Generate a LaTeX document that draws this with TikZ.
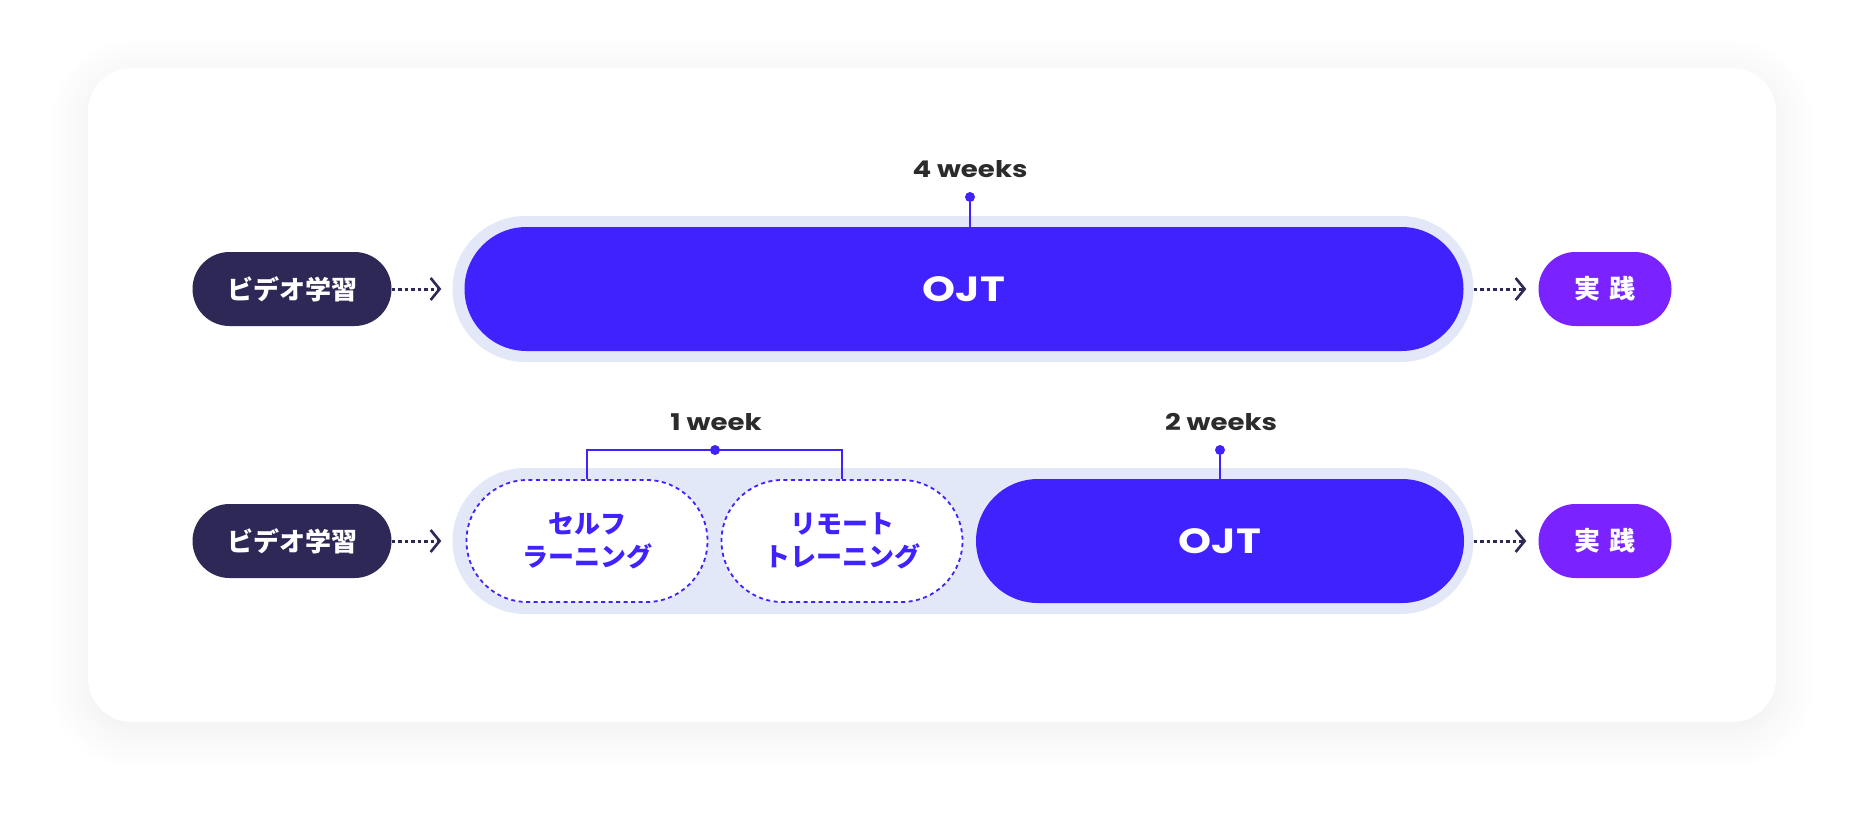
\documentclass[tikz,border=0pt]{standalone}
\usepackage{fontspec}
\newfontfamily\jpfont{Noto Sans CJK JP}
\newfontfamily\latinfont{Poppins}[FakeStretch=1.2]
\usetikzlibrary{shapes.misc, arrows.meta, positioning, shadows.blur}
\usepackage{xcolor}
\definecolor{PlanNavy}{HTML}{2E2856}
\definecolor{PlanBlue}{HTML}{4022FF}
\definecolor{PlanPurple}{HTML}{7A22FF}
\definecolor{PlanTrack}{HTML}{E3E8F8}
\definecolor{PlanText}{HTML}{2B2B2B}
\tikzset{
    % Pill styles - all fully rounded ends
    videopill/.style={
        rounded rectangle,
        fill=PlanNavy,
        minimum width=199pt,
        minimum height=74pt,
        inner sep=0pt,
        text=white,
        font=\jpfont\bfseries\fontsize{26pt}{30pt}\selectfont
    },
    practicepill/.style={
        rounded rectangle,
        fill=PlanPurple,
        minimum width=133pt,
        minimum height=74pt,
        inner sep=0pt,
        text=white,
        font=\jpfont\bfseries\fontsize{26pt}{30pt}\selectfont
    },
    trackpill/.style={
        rounded rectangle,
        fill=PlanTrack,
        minimum width=1021pt,
        minimum height=146pt,
        inner sep=0pt
    },
    ojtpill/.style={
        rounded rectangle,
        fill=PlanBlue,
        minimum height=124pt,
        inner sep=0pt,
        text=white,
        font=\latinfont\bfseries\fontsize{35pt}{40pt}\selectfont
    },
    selfpill/.style={
        rounded rectangle,
        draw=PlanBlue,
        fill=white,
        line width=1.8pt,
        dash pattern=on 4pt off 3.5pt,
        minimum width=241pt,
        minimum height=122pt,
        inner sep=0pt,
        align=center,
        text=PlanBlue,
        font=\jpfont\bfseries\fontsize{26pt}{33pt}\selectfont
    },
    weeklabel/.style={
        text=PlanText,
        inner sep=0pt,
        font=\latinfont\bfseries\fontsize{23pt}{26pt}\selectfont
    },
    marker/.style={
        circle,
        fill=PlanBlue,
        minimum size=10pt,
        inner sep=0pt
    },
    % Connector styles - straight lines only
    dotarrow/.style={
        -{Straight Barb[length=9pt, width=22pt, line width=2.6pt]},
        line width=3pt,
        draw=PlanNavy,
        dash pattern=on 3.5pt off 3pt
    },
    stem/.style={
        line width=2pt,
        draw=PlanBlue
    }
}

\begin{document}
\begin{tikzpicture}[x=1pt, y=-1pt]
    \useasboundingbox (0,0) rectangle (1864,830);

    % Card
    \fill[white, rounded corners=44pt,
        blur shadow={shadow xshift=0pt, shadow yshift=-8pt, shadow blur radius=40pt,
            shadow blur steps=16, shadow opacity=7}]
        (88,68) rectangle (1776,722);

    % Row 1: four weeks of OJT
    \node[videopill] (video1) at (292,289) {ビデオ学習};
    \node[trackpill] (track1) at (963,289) {};
    \node[ojtpill, minimum width=999pt] (ojt1) at (964,289) {OJT};
    \node[practicepill] (practice1) at (1605,289) {実\hspace{9pt}践};

    \node[weeklabel] (week4) at (970,169) {4 weeks};
    \node[marker] (m1) at (970,197) {};
    \draw[stem] (m1) -- (m1 |- ojt1.north);

    \draw[dotarrow, shorten >=11pt] (video1.east) -- (track1.west);
    \draw[dotarrow, shorten >=12pt] (track1.east) -- (practice1.west);

    % Row 2: one week of training, then two weeks of OJT
    \node[videopill] (video2) at (292,541) {ビデオ学習};
    \node[trackpill] (track2) at (963,541) {};
    \node[selfpill] (self) at (587,541) {セルフ\\ラーニング};
    \node[selfpill] (remote) at (842,541) {リモート\\トレーニング};
    \node[ojtpill, minimum width=488pt] (ojt2) at (1220,541) {OJT};
    \node[practicepill] (practice2) at (1605,541) {実\hspace{9pt}践};

    \node[weeklabel] (week1) at (716,422) {1 week};
    \node[marker] (m2) at (715,450) {};
    \draw[stem] (self.north) |- (m2.center) -| (remote.north);

    \node[weeklabel] (week2) at (1221,422) {2 weeks};
    \node[marker] (m3) at (1220,450) {};
    \draw[stem] (m3) -- (ojt2.north);

    \draw[dotarrow, shorten >=11pt] (video2.east) -- (track2.west);
    \draw[dotarrow, shorten >=12pt] (track2.east) -- (practice2.west);
\end{tikzpicture}
\end{document}
